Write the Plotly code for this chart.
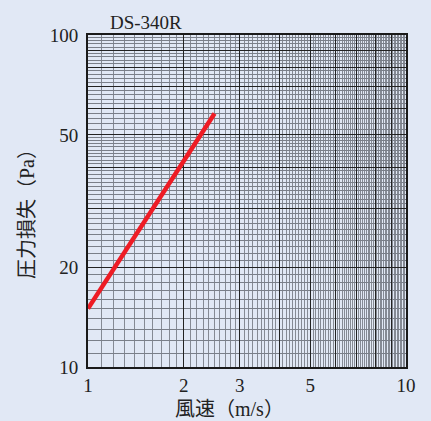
import plotly.graph_objects as go
import numpy as np

# Data
velocity = [1.0, 2.5]          # m/s
pressure_loss = [15.0, 58.0]   # Pa

x_major = [1, 2, 3, 4, 5, 6, 7, 8, 9, 10]
x_labels = ["1", "2", "3", "", "5", "", "", "", "", "10"]
y_major = [10, 20, 30, 40, 50, 60, 70, 80, 90, 100]
y_labels = ["10", "20", "", "", "50", "", "", "", "", "100"]

x_minor = [round(v, 2) for v in np.arange(1.1, 10.0, 0.1) if abs(v - round(v)) > 1e-6]
y_minor = ([v for v in range(11, 50) if v % 10 != 0] +
           [v for v in range(52, 100, 2) if v % 10 != 0])

bg = "#e1e8f5"
serif = "Liberation Serif, DejaVu Serif, serif"
cjk = "Liberation Serif, Noto Sans CJK JP, serif"

fig = go.Figure()
fig.add_trace(go.Scatter(
    x=velocity, y=pressure_loss, mode="lines",
    line=dict(color="#ee1c25", width=4.5), showlegend=False,
    hoverinfo="skip"))

fig.update_layout(
    width=431, height=421,
    margin=dict(l=88, r=25, t=35, b=54),
    paper_bgcolor=bg, plot_bgcolor=bg,
    font=dict(family=serif, color="#222222"),
    xaxis=dict(
        type="log", range=[0, 1],
        tickmode="array", tickvals=x_major, ticktext=x_labels,
        showgrid=True, gridcolor="#222222", gridwidth=1.3,
        minor=dict(tickmode="array", tickvals=x_minor, showgrid=True,
                   gridcolor="#858a94", gridwidth=1),
        showline=True, mirror=True, linecolor="#1a1a1a", linewidth=2,
        ticks="", tickfont=dict(family=serif, size=19, color="#222222"),
        zeroline=False,
    ),
    yaxis=dict(
        type="log", range=[1, 2],
        tickmode="array", tickvals=y_major, ticktext=y_labels,
        showgrid=True, gridcolor="#222222", gridwidth=1.3,
        minor=dict(tickmode="array", tickvals=y_minor, showgrid=True,
                   gridcolor="#7a7f89", gridwidth=1),
        showline=True, mirror=True, linecolor="#1a1a1a", linewidth=2,
        ticks="", tickfont=dict(family=serif, size=19, color="#222222"),
        ticklabelstandoff=4,
        zeroline=False,
    ),
    annotations=[
        dict(text="DS-340R", xref="paper", yref="paper", x=0.063, y=1.0,
             xanchor="left", yanchor="bottom", yshift=0, showarrow=False,
             font=dict(family=serif, size=19, color="#222222")),
        dict(text="風速（m/s）", xref="paper", yref="paper", x=0.445, y=0,
             xanchor="center", yanchor="top", yshift=-29, showarrow=False,
             font=dict(family=cjk, size=20, color="#222222")),
        dict(text="圧力損失（Pa）", xref="paper", yref="paper", x=0, y=0.5,
             xanchor="center", yanchor="middle", xshift=-61, yshift=-8,
             textangle=-90, showarrow=False,
             font=dict(family=cjk, size=20, color="#222222")),
    ],
)

fig.write_html("out.html",
               config={"displayModeBar": False},
               post_script="document.body.style.margin='0';document.body.style.background='%s';" % bg)
